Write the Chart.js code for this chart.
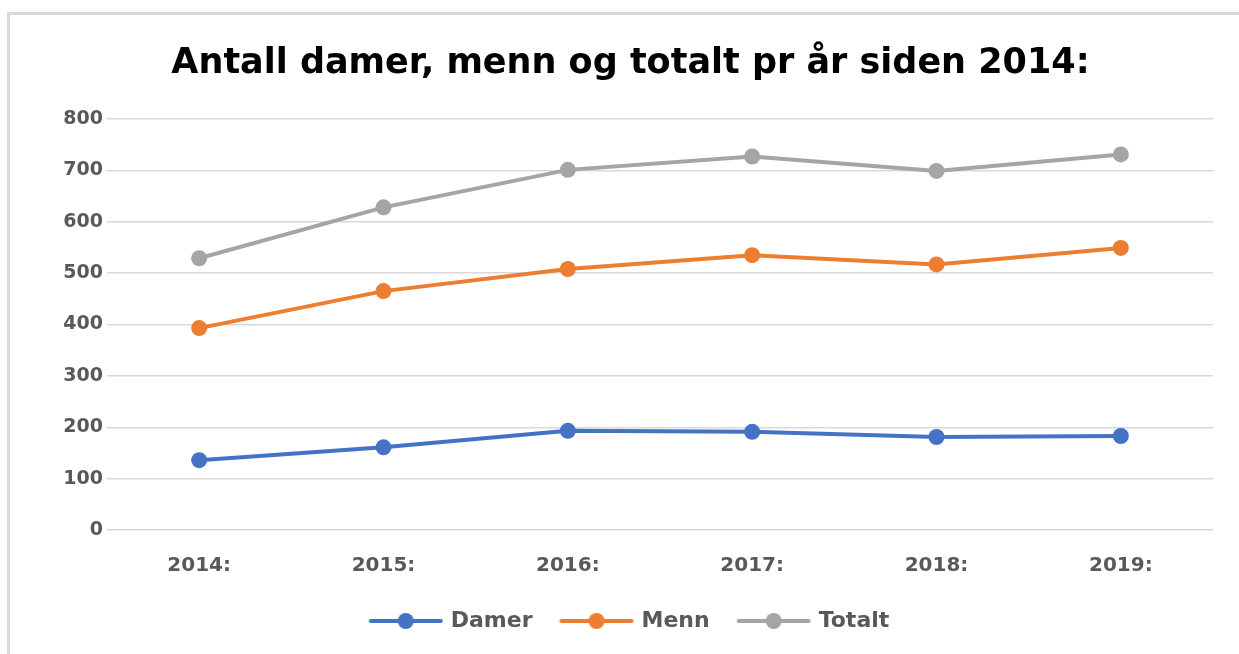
<!DOCTYPE html>
<html>
<head>
<meta charset="utf-8">
<script src="https://cdn.jsdelivr.net/npm/chart.js@4/dist/chart.umd.min.js"></script>
<style>
  html, body { margin: 0; padding: 0; background: #fff; overflow: hidden; }
  #frame {
    position: absolute; left: 7px; top: 12px;
    width: 1232px; height: 642px;
    border-top: 3px solid #d9d9d9; border-left: 3px solid #d9d9d9;
  }
  #chart { display: block; }
</style>
</head>
<body>
<div id="frame"><canvas id="chart" width="1229" height="639"></canvas></div>
<script>
// Data
const years = ['2014:', '2015:', '2016:', '2017:', '2018:', '2019:'];
const damer = [136, 161, 193, 191, 181, 183];
const menn = [393, 465, 508, 535, 517, 549];
const totalt = [529, 628, 701, 727, 699, 731];
const yTicks = [0, 100, 200, 300, 400, 500, 600, 700, 800];

const colors = { damer: '#4472C4', menn: '#ED7D31', totalt: '#A5A5A5' };

// legend marker: a short line with a dot in the middle
function legendMarker(color) {
  const c = document.createElement('canvas');
  c.width = 76;
  c.height = 18;
  const g = c.getContext('2d');
  g.strokeStyle = color;
  g.lineWidth = 4;
  g.lineCap = 'round';
  g.beginPath();
  g.moveTo(3, 9);
  g.lineTo(73, 9);
  g.stroke();
  g.fillStyle = color;
  g.beginPath();
  g.arc(38, 9, 8, 0, Math.PI * 2);
  g.fill();
  return c;
}

function series(label, data, color) {
  return {
    label,
    data,
    borderColor: color,
    backgroundColor: color,
    borderWidth: 4,
    pointRadius: 8,
    pointHoverRadius: 8,
    pointBorderWidth: 0,
    pointStyle: 'circle',
    tension: 0,
    marker: legendMarker(color)
  };
}

Chart.defaults.font.family = "'DejaVu Sans', sans-serif";

new Chart(document.getElementById('chart'), {
  type: 'line',
  data: {
    labels: years,
    datasets: [
      series('Damer', damer, colors.damer),
      series('Menn', menn, colors.menn),
      series('Totalt', totalt, colors.totalt)
    ]
  },
  options: {
    responsive: false,
    animation: false,
    layout: { padding: { left: 38, right: 26, top: 0, bottom: 12 } },
    plugins: {
      title: {
        display: true,
        text: 'Antall damer, menn og totalt pr år siden 2014:',
        color: '#000',
        font: { size: 35, weight: 'bold' },
        padding: { top: 28, bottom: 34 }
      },
      legend: {
        position: 'bottom',
        labels: {
          usePointStyle: true,
          pointStyleWidth: 68,
          boxHeight: 18,
          padding: 30,
          color: '#595959',
          font: { size: 22, weight: 'bold' },
          generateLabels(chart) {
            return chart.data.datasets.map((ds, i) => ({
              text: ds.label,
              fillStyle: ds.borderColor,
              strokeStyle: ds.borderColor,
              fontColor: '#595959',
              lineWidth: 0,
              pointStyle: ds.marker,
              datasetIndex: i,
              hidden: false
            }));
          }
        }
      },
      tooltip: { enabled: false }
    },
    scales: {
      x: {
        offset: true,
        grid: { display: false, drawTicks: false },
        border: { display: false },
        ticks: { color: '#595959', font: { size: 20, weight: 'bold' }, padding: 24 },
        afterFit(scale) { scale.height = 50; }
      },
      y: {
        min: 0,
        max: 800,
        afterBuildTicks(scale) { scale.ticks = yTicks.map(v => ({ value: v })); },
        grid: { color: '#d9d9d9', lineWidth: 1.5, drawTicks: false },
        border: { display: false },
        ticks: { color: '#595959', font: { size: 19, weight: 'bold' }, padding: 4 },
        afterFit(scale) { scale.width = 59; }
      }
    }
  }
});
</script>
</body>
</html>
